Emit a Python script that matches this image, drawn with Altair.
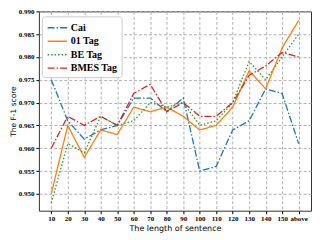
import altair as alt
import pandas as pd

lengths = ["10", "20", "30", "40", "50", "60", "70", "80", "90", "100",
           "110", "120", "130", "140", "150", "above"]
series_names = ["Cai", "01 Tag", "BE Tag", "BMES Tag"]
cai = [0.975, 0.966, 0.962, 0.964, 0.965, 0.971, 0.971, 0.968, 0.971, 0.955,
       0.956, 0.964, 0.966, 0.973, 0.972, 0.961]
tag01 = [0.950, 0.965, 0.958, 0.964, 0.963, 0.969, 0.968, 0.969, 0.967, 0.964,
         0.965, 0.969, 0.977, 0.973, 0.982, 0.988]
tag_be = [0.948, 0.961, 0.959, 0.967, 0.965, 0.966, 0.970, 0.969, 0.970, 0.965,
          0.966, 0.970, 0.979, 0.975, 0.980, 0.985]
tag_bmes = [0.960, 0.967, 0.965, 0.967, 0.965, 0.972, 0.974, 0.968, 0.970, 0.967,
            0.967, 0.970, 0.976, 0.978, 0.981, 0.980]
y_ticks = [0.950, 0.955, 0.960, 0.965, 0.970, 0.975, 0.980, 0.985, 0.990]

colors = ["#1f77b4", "#ff7f0e", "#2ca02c", "#d62728"]
dashes = [[7, 2, 1.5, 2], [1, 0], [1.5, 2], [7, 2, 1.5, 2]]

rows = []
for name, vals in zip(series_names, [cai, tag01, tag_be, tag_bmes]):
    for i, (l, v) in enumerate(zip(lengths, vals)):
        rows.append({"length": l, "score": v, "series": name, "order": i})
df = pd.DataFrame(rows)

serif = "Liberation Serif"
sans = "DejaVu Sans"

chart = alt.Chart(df).mark_line(strokeWidth=1.3).encode(
    x=alt.X("length:N", sort=lengths,
            scale=alt.Scale(type="point", padding=0.75),
            axis=alt.Axis(title="The length of sentence", labelAngle=0,
                          labelFont=serif, labelFontWeight="bold", labelFontSize=7,
                          titleFont=sans, titleFontWeight="normal", titleFontSize=8,
                          titleColor="#000", labelColor="#000",
                          grid=True, gridDash=[3, 2], gridColor="#b0b0b0",
                          domain=False, tickSize=3, tickColor="#000",
                          labelPadding=1, titlePadding=3)),
    y=alt.Y("score:Q",
            scale=alt.Scale(domain=[0.9463, 0.990], nice=False, zero=False),
            axis=alt.Axis(title="The F-1 score", values=y_ticks, format=".3f",
                          labelFont=serif, labelFontWeight="bold", labelFontSize=7,
                          titleFont=sans, titleFontWeight="normal", titleFontSize=7.5,
                          titleColor="#000", labelColor="#000",
                          grid=True, gridDash=[3, 2], gridColor="#b0b0b0",
                          domain=False, tickSize=3, tickColor="#000",
                          labelPadding=2, titlePadding=1)),
    color=alt.Color("series:N", sort=series_names,
                    scale=alt.Scale(domain=series_names, range=colors),
                    legend=alt.Legend(title=None, orient="none", legendX=3, legendY=5,
                                      labelFont=serif, labelFontWeight="bold",
                                      labelFontSize=10, labelColor="#000",
                                      symbolType="M-1.5,0H1.5", symbolSize=169,
                                      symbolFillColor="transparent",
                                      symbolStrokeWidth=1.4, rowPadding=0.5,
                                      symbolOffset=4, labelOffset=6,
                                      fillColor="white", strokeColor="#cccccc",
                                      cornerRadius=3, padding=4)),
    strokeDash=alt.StrokeDash("series:N", sort=series_names,
                              scale=alt.Scale(domain=series_names, range=dashes),
                              legend=None),
    order="order:Q",
).properties(
    width=273, height=200,
    padding={"left": 31, "top": 3, "right": 1, "bottom": 22},
    autosize=alt.AutoSizeParams(type="none"),
).configure_view(stroke="#333", strokeWidth=1)

chart.save("out.html", embed_options={"renderer": "svg", "actions": False})
